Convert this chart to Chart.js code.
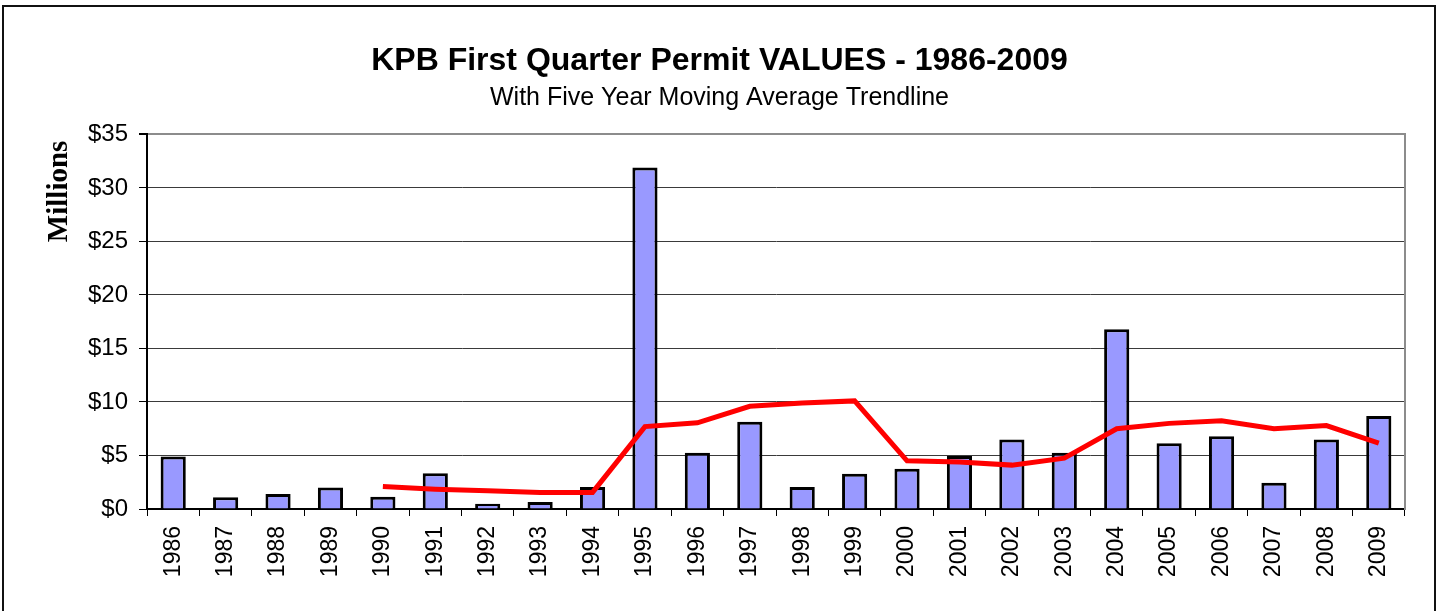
<!DOCTYPE html>
<html>
<head>
<meta charset="utf-8">
<script src="https://cdn.jsdelivr.net/npm/chart.js@4"></script>
<style>
  html, body { margin: 0; padding: 0; background: #fff; }
  #frame { position: absolute; left: 2px; top: 5px; width: 1430px; height: 640px; border: 2px solid #111; }
  #wrap { position: absolute; left: 0; top: 0; width: 1439px; height: 611px; }
</style>
</head>
<body>
<div id="frame"></div>
<div id="wrap"><canvas id="permitChart" width="1439" height="611"></canvas></div>
<script>
// Q1 permit values by year, $ millions
const years = ['1986','1987','1988','1989','1990','1991','1992','1993','1994','1995','1996','1997',
  '1998','1999','2000','2001','2002','2003','2004','2005','2006','2007','2008','2009'];
const permitValues = [4.9, 1.1, 1.4, 2.0, 1.15, 3.35, 0.5, 0.65, 2.05, 31.9, 5.25, 8.15,
  2.05, 3.3, 3.75, 4.95, 6.5, 5.25, 16.8, 6.15, 6.8, 2.45, 6.5, 8.7];
// five year moving average — starts at the 5th year
const movingAvg = [null, null, null, null, 2.1, 1.85, 1.7, 1.55, 1.55, 7.7, 8.05, 9.6,
  9.9, 10.1, 4.5, 4.4, 4.1, 4.75, 7.5, 8.0, 8.25, 7.5, 7.8, 6.15];
const yTicks = [0, 5, 10, 15, 20, 25, 30, 35];

const titleText = 'KPB First Quarter Permit VALUES - 1986-2009';
const subtitleText = 'With Five Year Moving Average Trendline';
const yAxisText = 'Millions';

// "Millions" sits high on the left, not centred on the axis, so draw it by hand
const millionsLabel = {
  id: 'millionsLabel',
  afterDraw(chart) {
    const { ctx, chartArea } = chart;
    ctx.save();
    ctx.translate(chartArea.left - 87, chartArea.top + 57);
    ctx.rotate(-Math.PI / 2);
    ctx.font = 'bold 29px "Liberation Serif", "Times New Roman", serif';
    ctx.fillStyle = '#000';
    ctx.textAlign = 'center';
    ctx.textBaseline = 'middle';
    ctx.fillText(yAxisText, 0, 0);
    ctx.restore();
  }
};

new Chart(document.getElementById('permitChart'), {
  data: {
    labels: years,
    datasets: [
      {
        type: 'line',
        label: 'Five Year Moving Average',
        data: movingAvg,
        borderColor: '#ff0000',
        borderWidth: 5,
        pointRadius: 0,
        tension: 0,
        spanGaps: false,
        order: 0
      },
      {
        type: 'bar',
        label: 'Permit Values',
        data: permitValues,
        backgroundColor: '#9999ff',
        borderColor: '#000',
        borderWidth: 3,
        categoryPercentage: 1,
        barPercentage: 0.48,
        order: 1
      }
    ]
  },
  options: {
    responsive: false,
    animation: false,
    layout: { padding: 0 },
    plugins: {
      legend: { display: false },
      tooltip: { enabled: false },
      title: {
        display: true,
        text: titleText,
        color: '#000',
        font: { family: '"Liberation Sans", Arial, sans-serif', size: 32, weight: 'bold', lineHeight: 1.2 },
        padding: { top: 42, bottom: 0 }
      },
      subtitle: {
        display: true,
        text: subtitleText,
        color: '#000',
        font: { family: '"Liberation Sans", Arial, sans-serif', size: 25, lineHeight: 1.2 },
        padding: { top: 3, bottom: 21 }
      }
    },
    scales: {
      x: {
        offset: true,
        afterFit: (s) => { s.height = 102; },
        grid: { offset: true, drawOnChartArea: false, drawTicks: true, tickLength: 7, tickColor: '#000', tickWidth: 1 },
        border: { color: '#000', width: 2 },
        ticks: {
          color: '#000',
          minRotation: 90,
          maxRotation: 90,
          padding: 10,
          autoSkip: false,
          font: { family: '"Liberation Sans", Arial, sans-serif', size: 23 }
        }
      },
      y: {
        min: 0,
        max: 35,
        afterFit: (s) => { s.width = 147; },
        afterBuildTicks: (s) => { s.ticks = yTicks.map(v => ({ value: v })); },
        grid: {
          color: (c) => c.tick && c.tick.value === 35 ? '#8c8c8c' : '#3a3a3a',
          lineWidth: (c) => c.tick && c.tick.value === 35 ? 2 : 1,
          tickLength: 8,
          tickColor: '#000'
        },
        border: { color: '#000', width: 2 },
        ticks: {
          color: '#000',
          padding: 11,
          font: { family: '"Liberation Sans", Arial, sans-serif', size: 24 },
          callback: (v) => '$' + v
        }
      },
      // empty right axis: gray frame on the plot's right side + right margin
      yRight: {
        position: 'right',
        min: 0,
        max: 35,
        afterFit: (s) => { s.width = 34; },
        grid: { drawOnChartArea: false, drawTicks: false },
        border: { color: '#8c8c8c', width: 2 },
        ticks: { display: false }
      }
    }
  },
  plugins: [millionsLabel]
});
</script>
</body>
</html>
